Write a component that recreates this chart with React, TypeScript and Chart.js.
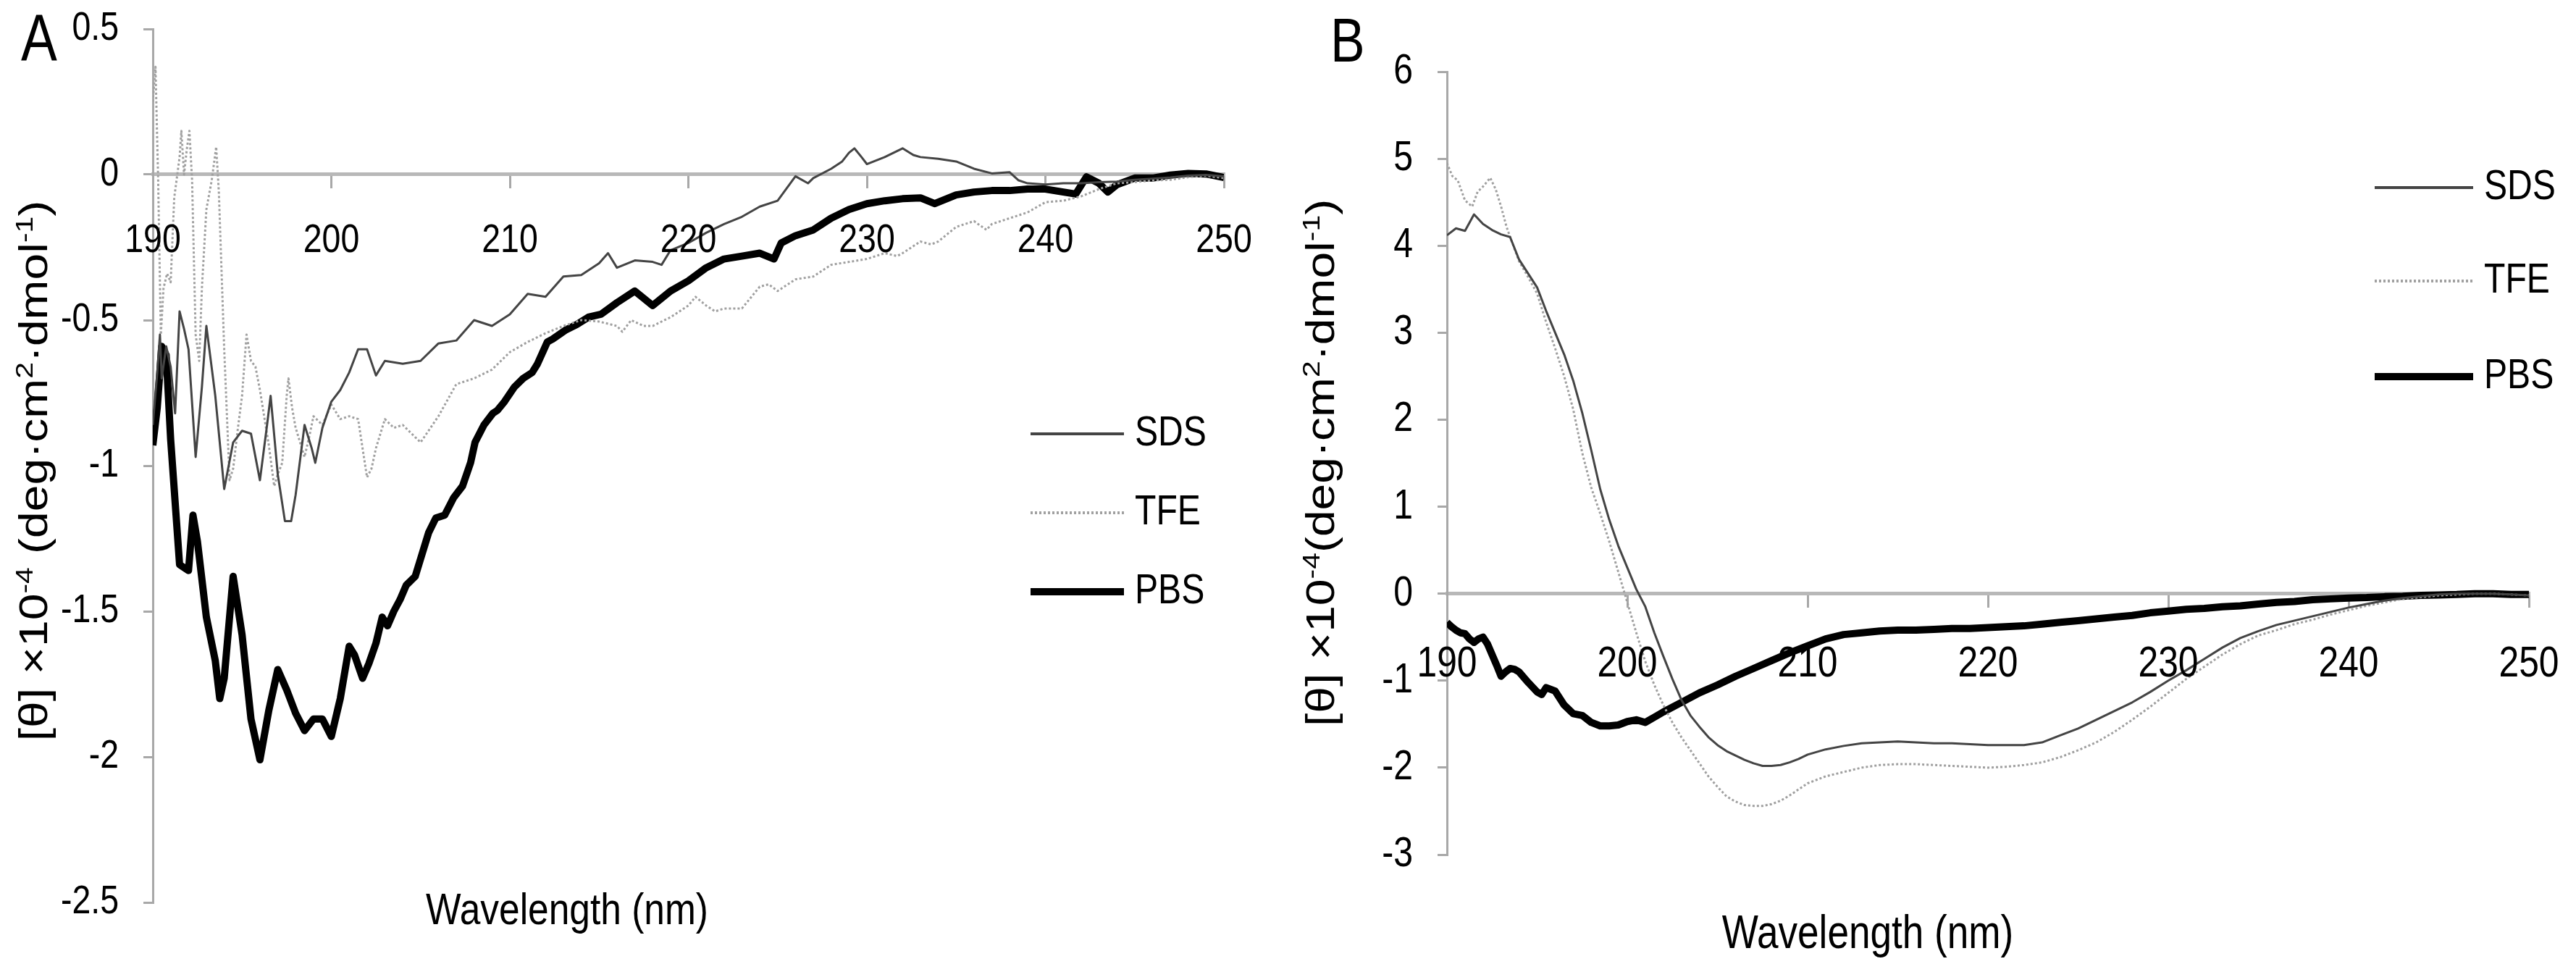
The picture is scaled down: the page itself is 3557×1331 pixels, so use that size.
import { useEffect, useRef } from 'react';
import { Chart, registerables } from 'chart.js';

Chart.register(...registerables);

const SANS = '"Liberation Sans", Arial, sans-serif';
const AXIS_GREY = '#a8a8a8';
// the source figure is squeezed sideways, so every horizontal text is drawn narrowed
const SQUEEZE = 0.83;

// ---- panel A : wavelength (nm) and [θ] x10^-4 ----
const aSdsNm = [190, 190.25, 190.4, 190.5, 190.75, 191, 191.25, 191.5, 191.75, 192, 192.4, 192.75, 193, 193.5, 194, 194.5, 195, 195.5, 196, 196.4, 196.6, 197, 197.4, 197.75, 198, 198.5, 198.9, 199.1, 199.5, 200, 200.5, 201, 201.5, 202, 202.5, 203, 204, 205, 206, 207, 208, 209, 210, 211, 212, 213, 214, 215, 215.5, 216, 217, 218, 218.5, 219, 220, 221, 222, 223, 224, 225, 226, 226.7, 227, 228, 228.6, 229, 229.3, 229.7, 230, 231, 232, 232.6, 233, 234, 235, 236, 237, 238, 238.5, 239, 240, 241, 242, 243, 244, 245, 246, 247, 248, 249, 250];
const aSdsVal = [-0.86, -0.68, -0.55, -0.7, -0.59, -0.66, -0.82, -0.47, -0.53, -0.6, -0.97, -0.73, -0.52, -0.76, -1.08, -0.92, -0.88, -0.89, -1.05, -0.86, -0.76, -1.03, -1.19, -1.19, -1.1, -0.86, -0.94, -0.99, -0.87, -0.78, -0.74, -0.68, -0.6, -0.6, -0.69, -0.64, -0.65, -0.64, -0.58, -0.57, -0.5, -0.52, -0.48, -0.41, -0.42, -0.35, -0.345, -0.305, -0.27, -0.32, -0.295, -0.3, -0.31, -0.26, -0.235, -0.2, -0.17, -0.145, -0.11, -0.09, -0.006, -0.03, -0.012, 0.02, 0.044, 0.075, 0.09, 0.06, 0.036, 0.06, 0.09, 0.067, 0.06, 0.054, 0.045, 0.02, 0.004, 0.008, -0.02, -0.03, -0.034, -0.03, -0.03, -0.026, -0.024, -0.018, -0.014, -0.01, -0.004, -0.001, -0.006];

const aTfeNm = [190, 190.15, 190.3, 190.45, 190.6, 190.8, 191, 191.2, 191.5, 191.6, 191.75, 191.9, 192.05, 192.2, 192.4, 192.6, 192.75, 193, 193.3, 193.55, 193.7, 193.85, 194, 194.3, 194.5, 194.75, 195, 195.25, 195.5, 195.75, 196, 196.5, 196.8, 197, 197.25, 197.5, 197.6, 197.8, 198, 198.5, 198.8, 199, 199.5, 200, 200.5, 201, 201.5, 202, 202.25, 202.5, 203, 203.5, 204, 205, 206, 207, 208, 209, 210, 211, 212, 213, 214, 215, 216, 216.3, 216.8, 217.5, 218, 219, 220, 220.4, 221, 221.5, 222, 223, 224, 224.5, 225, 226, 227, 228, 229, 230, 231, 231.7, 232, 233, 233.6, 234, 235, 236, 236.7, 237, 238, 239, 240, 241, 242, 243, 244, 245, 246, 247, 248, 249, 250];
const aTfeVal = [0.25, 0.37, -0.02, -0.55, -0.39, -0.34, -0.37, -0.08, 0.06, 0.15, 0.0, 0.085, 0.15, -0.02, -0.55, -0.64, -0.39, -0.12, -0.02, 0.095, -0.06, -0.33, -0.6, -1.05, -1.01, -0.88, -0.76, -0.55, -0.64, -0.66, -0.74, -0.93, -1.07, -1.03, -0.99, -0.76, -0.7, -0.8, -0.87, -0.97, -0.89, -0.83, -0.86, -0.79, -0.84, -0.83, -0.84, -1.04, -1.01, -0.94, -0.84, -0.87, -0.86, -0.92, -0.83, -0.72, -0.7, -0.67, -0.61, -0.575, -0.545, -0.52, -0.5, -0.505, -0.52, -0.54, -0.5, -0.52, -0.52, -0.49, -0.45, -0.42, -0.45, -0.47, -0.46, -0.46, -0.385, -0.377, -0.4, -0.36, -0.35, -0.31, -0.3, -0.29, -0.27, -0.28, -0.27, -0.23, -0.24, -0.23, -0.18, -0.16, -0.19, -0.17, -0.15, -0.13, -0.095, -0.09, -0.075, -0.05, -0.03, -0.026, -0.02, -0.018, -0.009, -0.004, -0.012];

const aPbsNm = [190, 190.25, 190.5, 190.75, 191, 191.5, 192, 192.25, 192.5, 193, 193.5, 193.75, 194, 194.5, 195, 195.5, 196, 196.5, 197, 197.5, 198, 198.5, 199, 199.5, 200, 200.5, 201, 201.3, 201.75, 202.1, 202.5, 202.85, 203.15, 203.5, 203.85, 204.2, 204.7, 205, 205.45, 205.85, 206.35, 206.85, 207.35, 207.8, 208.05, 208.55, 209.05, 209.3, 209.7, 210.25, 210.75, 211.25, 211.55, 212.1, 212.4, 213.1, 213.75, 214.4, 215.1, 216, 217, 218, 219, 220, 221, 222, 223, 224, 224.8, 225.2, 226, 227, 228, 229, 230, 231, 232, 233, 233.8, 234, 235, 236, 237, 238, 239, 240, 241, 241.7, 242.3, 243, 243.5, 244, 245, 246, 247, 248, 249, 250];
const aPbsVal = [-0.93, -0.8, -0.59, -0.62, -0.91, -1.34, -1.36, -1.17, -1.26, -1.52, -1.67, -1.8, -1.73, -1.38, -1.58, -1.87, -2.01, -1.84, -1.7, -1.77, -1.85, -1.91, -1.87, -1.87, -1.93, -1.8, -1.62, -1.65, -1.73, -1.68, -1.61, -1.52, -1.55, -1.5, -1.46, -1.41, -1.38, -1.32, -1.23, -1.18, -1.17, -1.11, -1.07, -0.99, -0.92, -0.86, -0.82, -0.81, -0.78, -0.73, -0.7, -0.68, -0.65, -0.575, -0.565, -0.535, -0.515, -0.49, -0.48, -0.44, -0.4, -0.45, -0.4, -0.365, -0.32, -0.29, -0.28, -0.27, -0.29, -0.235, -0.21, -0.19, -0.15, -0.12, -0.1, -0.09, -0.083, -0.08, -0.1, -0.095, -0.07, -0.06, -0.055, -0.055, -0.05, -0.05, -0.06, -0.067, -0.008, -0.03, -0.06, -0.035, -0.012, -0.012, -0.002, 0.004, 0.002, -0.01];

// ---- panel B ----
const bSdsNm = [190, 190.5, 191, 191.5, 192, 192.5, 193, 193.5, 194, 194.5, 195, 195.5, 196, 196.5, 197, 197.5, 198, 198.5, 199, 199.5, 200, 200.5, 201, 201.5, 202, 202.5, 203, 203.5, 204, 204.5, 205, 205.5, 206, 206.5, 207, 207.5, 208, 208.5, 209, 209.5, 210, 211, 212, 213, 214, 215, 216, 217, 218, 219, 220, 221, 222, 223, 224, 225, 226, 227, 228, 229, 230, 231, 232, 233, 234, 235, 236, 237, 238, 239, 240, 241, 242, 243, 244, 245, 246, 247, 248, 249, 250];
const bSdsVal = [4.12, 4.2, 4.17, 4.36, 4.25, 4.18, 4.13, 4.1, 3.84, 3.68, 3.52, 3.25, 3.0, 2.75, 2.45, 2.08, 1.65, 1.2, 0.85, 0.55, 0.3, 0.05, -0.15, -0.45, -0.72, -0.98, -1.22, -1.4, -1.53, -1.65, -1.74, -1.81, -1.86, -1.91, -1.95, -1.98, -1.98, -1.97, -1.94, -1.9, -1.85, -1.79, -1.75, -1.72, -1.71, -1.7, -1.71, -1.72, -1.72, -1.73, -1.74, -1.74, -1.74, -1.71, -1.63, -1.55, -1.45, -1.35, -1.25, -1.13, -1.0, -0.88, -0.75, -0.62, -0.51, -0.43, -0.36, -0.31, -0.26, -0.21, -0.16, -0.12, -0.08, -0.05, -0.03, -0.01, 0.0, 0.0, 0.0, -0.01, -0.02];

const bTfeNm = [190, 190.3, 190.6, 191, 191.4, 191.7, 192, 192.4, 192.7, 193, 193.3, 193.5, 194, 194.5, 195, 195.5, 196, 196.5, 197, 197.5, 198, 198.5, 199, 199.5, 200, 200.5, 201, 201.5, 202, 202.5, 203, 203.5, 204, 204.5, 205, 205.5, 206, 206.5, 207, 207.5, 208, 208.5, 209, 209.5, 210, 211, 212, 213, 214, 215, 216, 217, 218, 219, 220, 221, 222, 223, 224, 225, 226, 227, 228, 229, 230, 231, 232, 233, 234, 235, 236, 237, 238, 239, 240, 241, 242, 243, 244, 245, 246, 247, 248, 249, 250];
const bTfeVal = [4.95, 4.8, 4.75, 4.52, 4.45, 4.62, 4.68, 4.78, 4.65, 4.45, 4.22, 4.1, 3.82, 3.64, 3.45, 3.12, 2.82, 2.5, 2.12, 1.62, 1.22, 0.92, 0.6, 0.25, -0.1, -0.45, -0.78, -1.05, -1.28, -1.48, -1.65, -1.8, -1.95, -2.1, -2.22, -2.33, -2.39, -2.43, -2.44, -2.44, -2.42, -2.38, -2.32, -2.25, -2.18, -2.1, -2.05, -2.0, -1.97, -1.96, -1.96, -1.97, -1.98, -1.99, -2.0, -1.99, -1.97, -1.94, -1.88, -1.8, -1.71, -1.59, -1.45, -1.3, -1.14, -0.98, -0.84, -0.7, -0.58, -0.48, -0.42, -0.35, -0.3, -0.24, -0.19, -0.14, -0.1, -0.06, -0.04, -0.02, -0.01, 0.0, 0.0, -0.01, -0.02];

const bPbsNm = [190, 190.25, 190.5, 190.75, 191, 191.25, 191.5, 191.75, 192, 192.25, 192.5, 192.75, 193, 193.25, 193.5, 193.75, 194, 194.5, 195, 195.25, 195.5, 196, 196.5, 197, 197.5, 198, 198.5, 199, 199.5, 200, 200.5, 201, 201.5, 202, 203, 204, 205, 206, 207, 208, 209, 210, 211, 212, 213, 214, 215, 216, 217, 218, 219, 220, 221, 222, 223, 224, 225, 226, 227, 228, 229, 230, 231, 232, 233, 234, 235, 236, 237, 238, 239, 240, 241, 242, 243, 244, 245, 246, 247, 248, 249, 250];
const bPbsVal = [-0.33, -0.38, -0.42, -0.45, -0.46, -0.52, -0.56, -0.52, -0.5, -0.58, -0.7, -0.82, -0.95, -0.9, -0.86, -0.87, -0.9, -1.02, -1.13, -1.16, -1.08, -1.12, -1.28, -1.38, -1.4, -1.48, -1.52, -1.52, -1.51, -1.47, -1.45, -1.48, -1.42, -1.36, -1.25, -1.14, -1.05, -0.95, -0.86, -0.77, -0.68, -0.6, -0.52, -0.47, -0.45, -0.43, -0.42, -0.42, -0.41, -0.4, -0.4, -0.39, -0.38, -0.37, -0.35, -0.33, -0.31, -0.29, -0.27, -0.25, -0.22, -0.2, -0.18, -0.17, -0.15, -0.14, -0.12, -0.1, -0.09, -0.07, -0.06, -0.05, -0.045, -0.035, -0.03, -0.02, -0.015, -0.01, 0, 0, -0.01, -0.01];

const seriesNames = ['SDS', 'TFE', 'PBS'];
const xTitle = 'Wavelength (nm)';

type Part = { t: string; sup?: boolean };
const yTitleA: Part[] = [
  { t: '[θ] ×10' }, { t: '-4', sup: true }, { t: ' (deg·cm' }, { t: '2', sup: true },
  { t: '·dmol' }, { t: '-1', sup: true }, { t: ')' },
];
const yTitleB: Part[] = [
  { t: '[θ] ×10' }, { t: '-4', sup: true }, { t: '(deg·cm' }, { t: '2', sup: true },
  { t: '·dmol' }, { t: '-1', sup: true }, { t: ')' },
];

const pts = (nm: number[], v: number[]) => nm.map((x, i) => ({ x, y: v[i] }));

function narrowText(ctx: CanvasRenderingContext2D, text: string, x: number, y: number, align: CanvasTextAlign) {
  ctx.save();
  ctx.translate(x, y);
  ctx.scale(SQUEEZE, 1);
  ctx.textAlign = align;
  ctx.fillText(text, 0, 0);
  ctx.restore();
}

function drawYTitle(ctx: CanvasRenderingContext2D, parts: Part[], cx: number, cy: number, size: number) {
  const sup = size * 0.62;
  ctx.save();
  ctx.translate(cx, cy);
  ctx.scale(SQUEEZE, 1);
  ctx.rotate(-Math.PI / 2);
  let total = 0;
  for (const p of parts) {
    ctx.font = `${p.sup ? sup : size}px ${SANS}`;
    total += ctx.measureText(p.t).width;
  }
  let x = -total / 2;
  ctx.textAlign = 'left';
  ctx.textBaseline = 'alphabetic';
  for (const p of parts) {
    ctx.font = `${p.sup ? sup : size}px ${SANS}`;
    ctx.fillText(p.t, x, p.sup ? size * 0.35 - size * 0.36 : size * 0.35);
    x += ctx.measureText(p.t).width;
  }
  ctx.restore();
}

const decoPlugin = {
  id: 'deco',
  afterDraw(chart: any, _args: any, o: any) {
    const ctx: CanvasRenderingContext2D = chart.ctx;
    const xs = chart.scales.x;
    const ys = chart.scales.y;
    const area = chart.chartArea;
    ctx.save();
    ctx.fillStyle = '#000';

    // tick labels, placed from the scales
    ctx.textBaseline = 'middle';
    const zero = ys.getPixelForValue(0);
    ctx.font = `${o.xTickSize}px ${SANS}`;
    xs.ticks.forEach((t: any) => {
      narrowText(ctx, String(t.value), xs.getPixelForValue(t.value), zero + o.xLabelOffset, 'center');
    });
    ctx.font = `${o.yTickSize}px ${SANS}`;
    ys.ticks.forEach((t: any) => {
      narrowText(ctx, String(t.value), area.left - o.yLabelOffset, ys.getPixelForValue(t.value), 'right');
    });

    ctx.textBaseline = 'alphabetic';
    ctx.font = `${o.letterSize}px ${SANS}`;
    narrowText(ctx, o.letter, o.letterX, o.letterY, 'left');

    ctx.font = `${o.xTitleSize}px ${SANS}`;
    narrowText(ctx, xTitle, o.xTitleX, o.xTitleY, 'center');

    drawYTitle(ctx, o.yTitle, o.yTitleX, o.yTitleY, o.yTitleSize);

    chart.data.datasets.forEach((ds: any, i: number) => {
      const y = o.legendY[i];
      ctx.beginPath();
      ctx.strokeStyle = ds.borderColor;
      ctx.lineWidth = Math.max(ds.borderWidth, 4);
      ctx.setLineDash(ds.borderDash || []);
      ctx.moveTo(o.legendX0, y);
      ctx.lineTo(o.legendX1, y);
      ctx.stroke();
      ctx.setLineDash([]);
      ctx.fillStyle = '#000';
      ctx.textBaseline = 'middle';
      ctx.font = `${o.legendSize}px ${SANS}`;
      narrowText(ctx, ds.label, o.legendTextX, y, 'left');
    });
    ctx.restore();
  },
};

function makeConfig(p: any): any {
  return {
    type: 'line',
    data: {
      datasets: [
        { label: seriesNames[0], data: p.sds, borderColor: '#444444', borderWidth: 3 },
        { label: seriesNames[1], data: p.tfe, borderColor: '#a0a0a0', borderWidth: 3, borderDash: [3, 3] },
        { label: seriesNames[2], data: p.pbs, borderColor: '#000000', borderWidth: 10 },
      ],
    },
    options: {
      responsive: false,
      animation: false,
      devicePixelRatio: 1,
      parsing: false,
      layout: { autoPadding: false, padding: p.padding },
      elements: { point: { radius: 0 }, line: { tension: 0, borderJoinStyle: 'round' } },
      plugins: { legend: { display: false }, tooltip: { enabled: false }, deco: p.deco },
      scales: {
        x: {
          type: 'linear',
          position: { y: 0 },
          min: 190,
          max: 250,
          afterFit: (s: any) => { s.height = 0; },
          border: { display: true, color: '#b8b8b8', width: 5 },
          grid: { drawOnChartArea: false, drawTicks: true, tickLength: 17, color: AXIS_GREY, lineWidth: 3 },
          ticks: { display: false, stepSize: 10, autoSkip: false },
        },
        y: {
          type: 'linear',
          position: 'left',
          min: p.yMin,
          max: p.yMax,
          afterFit: (s: any) => { s.width = 0; },
          border: { display: true, color: AXIS_GREY, width: 3 },
          grid: { drawOnChartArea: false, drawTicks: true, tickLength: 13, color: AXIS_GREY, lineWidth: 3 },
          ticks: { display: false, stepSize: p.yStep, autoSkip: false },
        },
      },
    },
    plugins: [decoPlugin],
  };
}

const panelA = {
  sds: pts(aSdsNm, aSdsVal),
  tfe: pts(aTfeNm, aTfeVal),
  pbs: pts(aPbsNm, aPbsVal),
  padding: { left: 211, right: 90, top: 40, bottom: 85 },
  yMin: -2.5,
  yMax: 0.5,
  yStep: 0.5,
  deco: {
    xTickSize: 56, yTickSize: 56, xLabelOffset: 92, yLabelOffset: 47,
    letter: 'A', letterX: 29, letterY: 83, letterSize: 90,
    xTitleX: 783, xTitleY: 1276, xTitleSize: 62,
    yTitle: yTitleA, yTitleX: 46, yTitleY: 650, yTitleSize: 66,
    legendX0: 1423, legendX1: 1552, legendTextX: 1567, legendY: [599, 708, 817], legendSize: 58,
  },
};

const panelB = {
  sds: pts(bSdsNm, bSdsVal),
  tfe: pts(bTfeNm, bTfeVal),
  pbs: pts(bPbsNm, bPbsVal),
  padding: { left: 218, right: 65, top: 99, bottom: 151 },
  yMin: -3,
  yMax: 6,
  yStep: 1,
  deco: {
    xTickSize: 60, yTickSize: 58, xLabelOffset: 98, yLabelOffset: 47,
    letter: 'B', letterX: 57, letterY: 85, letterSize: 86,
    xTitleX: 799, xTitleY: 1309, xTitleSize: 64,
    yTitle: yTitleB, yTitleX: 43, yTitleY: 639, yTitleSize: 66,
    legendX0: 1499, legendX1: 1635, legendTextX: 1650, legendY: [259, 388, 520], legendSize: 58,
  },
};

export default function App() {
  const refA = useRef<HTMLCanvasElement>(null);
  const refB = useRef<HTMLCanvasElement>(null);

  useEffect(() => {
    document.body.style.margin = '0';
    if (!refA.current || !refB.current) return;
    const a = new Chart(refA.current, makeConfig(panelA));
    const b = new Chart(refB.current, makeConfig(panelB));
    return () => {
      a.destroy();
      b.destroy();
    };
  }, []);

  return (
    <div style={{ position: 'relative', width: 3557, height: 1331, background: '#fff', overflow: 'hidden' }}>
      <canvas ref={refA} width={1780} height={1331} style={{ position: 'absolute', left: 0, top: 0 }} />
      <canvas ref={refB} width={1777} height={1331} style={{ position: 'absolute', left: 1780, top: 0 }} />
    </div>
  );
}
